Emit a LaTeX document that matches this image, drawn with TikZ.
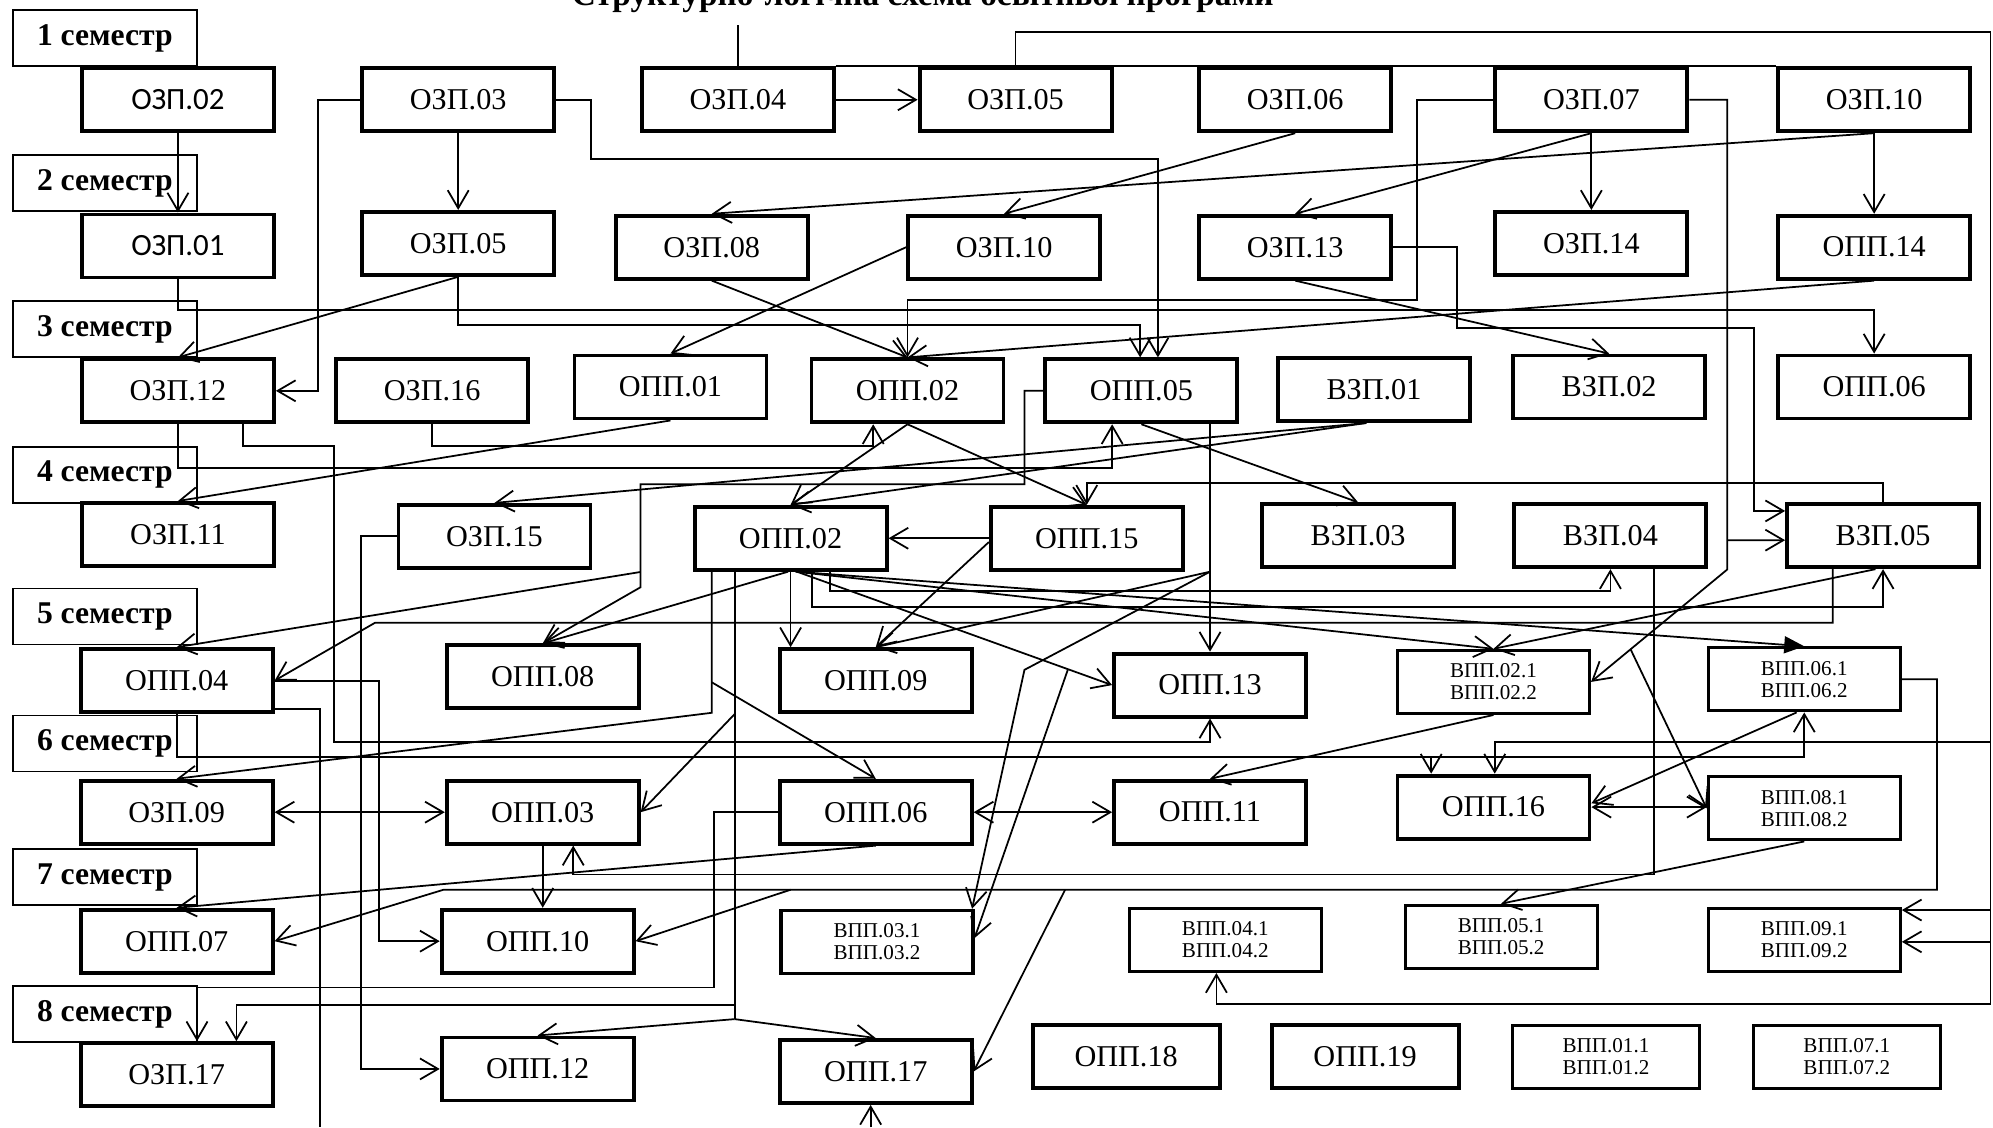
\documentclass[tikz,border=0pt]{standalone}
\usepackage{fontspec}
\setmainfont{Liberation Serif}
\newfontfamily\calfont{Carlito}
\usetikzlibrary{arrows.meta,calc}

\begin{document}
\begin{tikzpicture}[
    x=0.1271mm, y=-0.1271mm,
    box/.style={rectangle, draw, line width=1.1pt, fill=white, minimum width=19.2mm, minimum height=6.3mm, inner sep=0pt, font=\fontsize{8.6}{10}\selectfont},
    vbox/.style={box, line width=0.9pt, align=center, font=\fontsize{6}{6.3}\selectfont},
    sem/.style={rectangle, draw, line width=0.5pt, minimum width=18.4mm, minimum height=5.6mm, inner sep=0pt, font=\fontsize{9}{10}\selectfont\bfseries},
    con/.style={line width=0.5pt},
    arr/.style={con, -{Straight Barb[length=1.8mm,width=2.1mm]}},
    darr/.style={con, {Straight Barb[length=1.8mm,width=2.1mm]}-{Straight Barb[length=1.8mm,width=2.1mm]}},
    farr/.style={con, -{Triangle[length=2mm,width=1.7mm]}}
]
\useasboundingbox (0,0) rectangle (1568,887);

% Title (cut at the top edge)
\node[font=\fontsize{9.5}{10}\selectfont\bfseries, anchor=base] (title) at (726,4.5) {Структурно-логічна схема освітньої програми};

% Semester labels
\node[sem] (sem1) at (82.5,30) {1 семестр};
\node[sem] (sem2) at (82.5,144) {2 семестр};
\node[sem] (sem3) at (82.5,259) {3 семестр};
\node[sem] (sem4) at (82.5,373.5) {4 семестр};
\node[sem] (sem5) at (82.5,485) {5 семестр};
\node[sem] (sem6) at (82.5,585) {6 семестр};
\node[sem] (sem7) at (82.5,690) {7 семестр};
\node[sem] (sem8) at (82.5,798) {8 семестр};

% Row 1
\node[box, font=\calfont\fontsize{8.8}{10}\selectfont] (oz02) at (140,78.5) {ОЗП.02};
\node[box] (oz03) at (360.5,78.5) {ОЗП.03};
\node[box] (oz04) at (580.5,78.5) {ОЗП.04};
\node[box] (ozA05) at (799,78.5) {ОЗП.05};
\node[box] (oz06) at (1019,78.5) {ОЗП.06};
\node[box] (oz07) at (1252,78.5) {ОЗП.07};
\node[box] (ozA10) at (1474.5,78.5) {ОЗП.10};

% Row 2
\node[box, font=\calfont\fontsize{8.8}{10}\selectfont] (oz01) at (140,193.5) {ОЗП.01};
\node[box] (ozB05) at (360.5,191.5) {ОЗП.05};
\node[box] (oz08) at (560,194.5) {ОЗП.08};
\node[box] (ozB10) at (790,194.5) {ОЗП.10};
\node[box] (oz13) at (1019,194.5) {ОЗП.13};
\node[box] (oz14) at (1252,191.5) {ОЗП.14};
\node[box] (op14) at (1474.5,194.5) {ОПП.14};

% Row 3
\node[box] (oz12) at (140,307.5) {ОЗП.12};
\node[box] (oz16) at (340,307.5) {ОЗП.16};
\node[box] (op01) at (527.5,304.5) {ОПП.01};
\node[box] (opA02) at (714,307.5) {ОПП.02};
\node[box] (op05) at (898,307.5) {ОПП.05};
\node[box] (vz01) at (1081,306.5) {ВЗП.01};
\node[box] (vz02) at (1266,304.5) {ВЗП.02};
\node[box] (opA06) at (1474.5,304.5) {ОПП.06};

% Row 4
\node[box] (oz11) at (140,420.5) {ОЗП.11};
\node[box] (oz15) at (389,422) {ОЗП.15};
\node[box] (opB02) at (622,423.5) {ОПП.02};
\node[box] (op15) at (855,423.5) {ОПП.15};
\node[box] (vz03) at (1068.5,421.5) {ВЗП.03};
\node[box] (vz04) at (1267,421.5) {ВЗП.04};
\node[box] (vz05) at (1481.5,421.5) {ВЗП.05};

% Row 5
\node[box] (op04) at (139,535.5) {ОПП.04};
\node[box] (op08) at (427,532.5) {ОПП.08};
\node[box] (op09) at (689,535.5) {ОПП.09};
\node[box] (op13) at (952,539) {ОПП.13};
\node[vbox] (vp02) at (1175,536.5) {ВПП.02.1\\ВПП.02.2};
\node[vbox] (vp06) at (1419.5,534.5) {ВПП.06.1\\ВПП.06.2};

% Row 6
\node[box] (oz09) at (139,639) {ОЗП.09};
\node[box] (op03) at (427,639) {ОПП.03};
\node[box] (opB06) at (689,639) {ОПП.06};
\node[box] (op11) at (952,639) {ОПП.11};
\node[box] (op16) at (1175,635) {ОПП.16};
\node[vbox] (vp08) at (1419.5,636) {ВПП.08.1\\ВПП.08.2};

% Row 7
\node[box] (op07) at (139,740.5) {ОПП.07};
\node[box] (op10) at (423,740.5) {ОПП.10};
\node[vbox] (vp03) at (690,741) {ВПП.03.1\\ВПП.03.2};
\node[vbox] (vp04) at (964,739.5) {ВПП.04.1\\ВПП.04.2};
\node[vbox] (vp05) at (1181,737) {ВПП.05.1\\ВПП.05.2};
\node[vbox] (vp09) at (1419.5,739.5) {ВПП.09.1\\ВПП.09.2};

% Row 8
\node[box] (oz17) at (139,845.5) {ОЗП.17};
\node[box] (op12) at (423,841) {ОПП.12};
\node[box] (op17) at (689,843) {ОПП.17};
\node[box, minimum width=18.7mm] (op18) at (886,831.5) {ОПП.18};
\node[box, minimum width=18.7mm] (op19) at (1074,831.5) {ОПП.19};
\node[vbox, minimum width=18.7mm] (vp01) at (1263.5,831.5) {ВПП.01.1\\ВПП.01.2};
\node[vbox, minimum width=18.7mm] (vp07) at (1453,831.5) {ВПП.07.1\\ВПП.07.2};

% Free ends and bend points
\coordinate (rtop) at (1566,25);
\coordinate (rbot) at (1566,790);
\coordinate (b7) at (1359,448);
\coordinate (s13) at ($(opB02.south)+(5,0)$);
\coordinate (s9) at ($(opB02.south)+(-62,0)$);
\coordinate (s3) at ($(opB02.south)+(-44,0)$);
\coordinate (s5) at ($(op05.south)+(54,116)$);
\coordinate (edge) at (252,887);
\coordinate (bot) at (685,887);

% Top rail
\draw[con] (oz04.north) -- (oz04.north |- title.south);
\draw[con] (oz04.north east) -- (ozA10.north west);
\draw[arr] (ozA05.north) |- (rtop) -- (rbot) -| ($(vp04.south)+(-7,0)$);
\draw[arr] ($(rbot)+(0,-206)$) -| ($(op16.north)+(1,0)$);
\draw[arr] ($(vp09.east)+(69,-23.5)$) -- ($(vp09.east)+(0,-23.5)$);
\draw[arr] ($(vp09.east)+(69,1.5)$) -- ($(vp09.east)+(0,1.5)$);

% Semester 1 -> 2
\draw[arr] (oz02.south) -- (oz01.north);
\draw[arr] (oz04.east) -- (ozA05.west);
\draw[arr] (oz03.south) -- (ozB05.north);
\draw[arr] (oz03.west) -| (250,200) |- (oz12.east);
\draw[arr] (oz03.east) -| (465,125) -| ($(op05.north)+(13,0)$);
\draw[arr] (oz06.south) -- (ozB10.north);
\draw[arr] (ozA10.south) -- (oz08.north);
\draw[arr] (ozA10.south) -- (op14.north);
\draw[arr] (oz07.south) -- (oz14.north);
\draw[arr] (oz07.south) -- (oz13.north);
\draw[arr] (oz07.west) -| (1115,236) -| (opA02.north);
\draw[arr] (oz07.east) -| (b7) -- (vp02.east);
\draw[arr] ($(b7)+(0,-23)$) -- ($(vz05.west)+(0,3.5)$);
\draw[arr] ($(b7)!0.71!(vp02.east)$) -- (vp08.west);

% Semester 2 -> 3
\draw[arr] (oz01.south) -- ++(0,24) -| (opA06.north);
\draw[arr] (ozB05.south) -- (oz12.north);
\draw[arr] (ozB05.south) -- ++(0,38) -| ($(op05.north)+(-1,0)$);
\draw[arr] (oz08.south) -- (opA02.north);
\draw[arr] (op14.south) -- (opA02.north);
\draw[arr] (ozB10.west) -- (op01.north);
\draw[arr] (oz13.south) -- (vz02.north);
\draw[arr] (oz13.east) -| (1146,258) -| (1380,402) -- ($(vz05.west)+(0,-19.5)$);

% Semester 3 -> 4
\draw[arr] (oz12.south) |- (875,368) -- ($(op05.south)+(-23,0)$);
\draw[arr] ($(oz12.south)+(51,0)$) |- (263,351) -- (263,584) -| (op13.south);
\draw[arr] (oz16.south) -- ++(0,17) -| ($(opA02.south)+(-27,0)$);
\draw[arr] (op01.south) -- (oz11.north);
\draw[arr] ($(vz01.south)+(-6,0)$) -- (oz15.north);
\draw[arr] ($(vz01.south)+(-6,0)$) -- (opB02.north);
\draw[arr] (opA02.south) -- (opB02.north);
\draw[arr] (opA02.south) -- (op15.north);
\draw[arr] (op05.south) -- (vz03.north);
\draw[arr] ($(op05.south)+(54,0)$) -- (op13.north);
\draw[arr] (s5) -- (op09.north);
\draw[arr] (s5) -- (806,527) -- ($(vp03.north east)+(-2,0)$);
\draw[arr] (op05.west) -| (806,381) -| (504,462) -- (op08.north);
\draw[arr] (504,450) -- (op04.north);

% Semester 4 -> 5
\draw[arr] (op15.west) -- (opB02.east);
\draw[arr] ($(op15.west)+(0,3)$) -- (op09.north);
\draw[arr] (vz05.north) -- ++(0,-15) -| (op15.north);
\draw[arr] ($(vz05.south)+(-39.5,0)$) |- (295,490) -- (op04.east);
\draw[arr] ($(vz05.south)+(-6,0)$) -- (vp02.north);
\draw[arr] ($(vz04.south)+(34,0)$) |- (451,688) -- ($(op03.south)+(24,0)$);
\draw[arr] ($(opB02.south)+(31,0)$) -- ++(0,15) -| (vz04.south);
\draw[arr] ($(opB02.south)+(17,0)$) -- ++(0,28) -| (vz05.south);
\draw[arr] ($(opB02.south)+(4,0)$) -- (vp02.north);
\draw[farr] ($(opB02.south)+(4,0)$) -- (vp06.north);
\draw[arr] (s13) -- (op13.west);
\draw[arr] ($(s13)!0.86!(op13.west)$) -- ($(vp03.east)+(0,-3)$);
\draw[arr] (opB02.south) -- (opB02.south |- op09.north);
\draw[arr] ($(opB02.south)+(-2,0)$) -- (op08.north);
\draw[arr] (s9) -- ++(0,111) -- (oz09.north);
\draw[arr] ($(s9)+(0,87)$) -- (opB06.north);
\draw[con] (s3) -- ++(0,352);
\draw[arr] ($(s3)+(0,112)$) -- (op03.east);
\draw[arr] ($(s3)+(0,341)$) -| ($(oz17.north)+(47,0)$);
\draw[arr] ($(s3)+(0,352)$) -- (op12.north);
\draw[arr] ($(s3)+(0,352)$) -- (op17.north);

% Semester 5 -> 8
\draw[arr] (op04.east) -| (298,600) |- (op10.west);
\draw[con] ($(op04.east)+(0,22.5)$) -| (edge);
\draw[arr] (op04.south) -- ++(0,34) -| (vp06.south);
\draw[arr] (1126,596) -- ($(op16.north)+(-49,0)$);
\draw[arr] (oz15.west) -| (284,600) |- (op12.west);
\draw[darr] (oz09.east) -- (op03.west);
\draw[darr] (opB06.east) -- (op11.west);
\draw[darr] (op16.east) -- (op16.east -| vp08.west);
\draw[arr] ($(vp06.south)+(-6,0)$) -- ($(op16.east)+(0,-3)$);
\draw[arr] (op03.south) -- (op03.south |- op10.north);
\draw[arr] (vp02.south) -- (op11.north);
\draw[arr] (vp08.south) -- (vp05.north);
\draw[arr] (vp06.east) -| (1524,700) -- (349,700) -- (op07.east);
\draw[arr] (622,700) -- (op10.east);
\draw[arr] (838,700) -- (op17.east);
\draw[arr] (opB06.south) -- (op07.north);
\draw[arr] (opB06.west) -| (562,777) -| ($(oz17.north)+(16,0)$);
\draw[arr] (bot) -- ($(op17.south)+(-4,0)$);

\end{tikzpicture}
\end{document}
